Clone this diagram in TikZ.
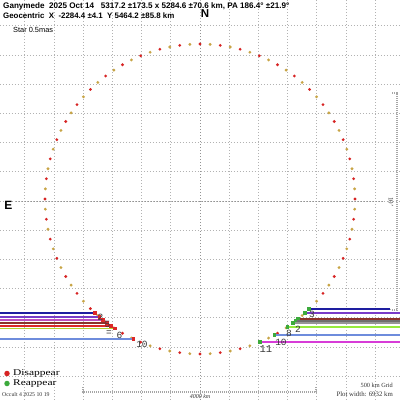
\documentclass[tikz,border=0pt]{standalone}
\usepackage{fontspec}
\usetikzlibrary{calc}
\setmainfont{Liberation Serif}
\setsansfont{Liberation Sans}
\setmonofont{Liberation Mono}
\definecolor{dred}{RGB}{215,35,35}
\definecolor{dolive}{RGB}{200,165,70}
\definecolor{cdblue}{RGB}{30,30,160}
\definecolor{cpurple}{RGB}{120,60,200}
\definecolor{cviolet}{RGB}{190,80,190}
\definecolor{cbrown}{RGB}{140,50,40}
\definecolor{cred}{RGB}{220,40,40}
\definecolor{cyg}{RGB}{180,210,50}
\definecolor{ccorn}{RGB}{110,140,220}
\definecolor{cgrayA}{RGB}{110,110,110}
\definecolor{cgrayB}{RGB}{150,150,150}
\definecolor{clgreen}{RGB}{150,235,60}
\definecolor{cmag}{RGB}{215,60,215}
\definecolor{gfill}{RGB}{60,170,60}
\definecolor{lblgray}{RGB}{55,55,55}
\tikzset{
  gridline/.style={draw=gray!60, line width=0.9pt, dash pattern=on 1.1pt off 1.9pt},
  axisline/.style={draw=gray!85, line width=1pt, dash pattern=on 1.1pt off 1.9pt},
  chord/.style={line width=1.4pt},
  lbl/.style={font=\ttfamily\fontsize{9.5}{9.5}\selectfont, text=lblgray, inner sep=0pt},
  scaleln/.style={draw=gray!70, line width=1.1pt, dash pattern=on 1.2pt off 0.8pt},
  small/.style={font=\fontsize{6.3}{6.3}\selectfont, inner sep=0pt, text=black!80}
}
\begin{document}
\begin{tikzpicture}[x=1pt,y=-1pt]
\useasboundingbox (0,0) rectangle (400,400);
\fill[white] (0,0) rectangle (400,400);
% grid
\foreach \k in {-7,...,7} {
  \draw[gridline] ({200+29.2*\k},0) -- ({200+29.2*\k},400);
  \draw[gridline] (0,{201+29.2*\k}) -- (400,{201+29.2*\k});
}
\draw[axisline] (200,24) -- (200,400);
\draw[axisline] (16,201) -- (384,201);
% limb dots
\foreach \i in {0,...,95} {
  \pgfmathsetmacro\a{\i*3.75}
  \pgfmathtruncatemacro\p{mod(\i,2)}
  \ifnum\p=0 \def\c{dred}\else\def\c{dolive}\fi
  \fill[\c] ({200+155*cos(\a)},{199+155*sin(\a)}) circle (1.55);
}
% left chords (disappear)
\foreach \y/\col [count=\n] in {313/cdblue,317/cpurple,320/cviolet,323/cbrown,326/cred,328.5/cyg,339/ccorn} {
  \pgfmathsetmacro\xx{200-100*sqrt(1.55*1.55-((\y-199)/100)^2)}
  \coordinate (L\n) at (\xx,\y);
  \coordinate (Le\n) at (0,\y);
  \draw[chord,\col] (Le\n) -- (L\n);
  \fill[cred] ($(L\n)+(-1.8,-1.8)$) rectangle ++(3.6,3.6);
}
% right chords (reappear)
\foreach \y/\col/\xe [count=\n] in {309/cdblue/390,313/cpurple/400,319/cbrown/400,321/cgrayA/400,323/cgrayB/400,327/clgreen/400,335/ccorn/400,342/cmag/400} {
  \pgfmathsetmacro\xx{200+100*sqrt(1.55*1.55-((\y-199)/100)^2)}
  \coordinate (R\n) at (\xx,\y);
  \coordinate (Re\n) at (\xe,\y);
  \draw[chord,\col] (R\n) -- (Re\n);
  \fill[gfill] ($(R\n)+(-1.8,-1.8)$) rectangle ++(3.6,3.6);
}
\coordinate (Rx) at (396,309);
\draw[gray!60, line width=0.8pt, dash pattern=on 1pt off 1pt] (Re1) -- (Rx);
% chord labels
\node[lbl] (l2) at (100.5,317.5) {2};
\node[lbl] (l5) at (107.5,324) {5};
\node[lbl] (leq) at (109,333) {=};
\node[lbl] (l6) at (119.5,335) {6};
\node[lbl] (l10) at (142,344.5) {10};
\node[lbl] (r3) at (312,314) {3};
\node[lbl] (r2) at (298,329.5) {2};
\node[lbl] (r8) at (289,333) {8};
\node[lbl] (r10) at (281,342.5) {10};
\node[lbl, font=\ttfamily\fontsize{10.5}{10.5}\selectfont] (r11) at (266,349.5) {11};
% header
\node[anchor=west, inner sep=0pt, font=\sffamily\bfseries\fontsize{8.1}{8}\selectfont] (t1) at (3,6)
  {Ganymede\ \ 2025 Oct 14\ \ \ 5317.2 ±173.5 x 5284.6 ±70.6 km, PA 186.4° ±21.9°};
\node[anchor=west, inner sep=0pt, font=\sffamily\bfseries\fontsize{7.9}{8}\selectfont] (t2) at (3,16)
  {Geocentric\ \ X\ \ -2284.4 ±4.1\ \ Y 5464.2 ±85.8 km};
\node[anchor=west, inner sep=0pt, font=\sffamily\fontsize{7.4}{8}\selectfont] (t3) at (13,30) {Star 0.5mas};
\node[inner sep=0pt, font=\sffamily\bfseries\fontsize{11.5}{12}\selectfont] (N) at (205,14) {N};
\node[inner sep=0pt, font=\sffamily\bfseries\fontsize{12}{12}\selectfont] (E) at (8.5,205) {E};
% legend
\node[circle, fill=dred, inner sep=0pt, minimum size=5.5pt] (dd) at (7,373.5) {};
\node[circle, fill=gfill, inner sep=0pt, minimum size=5.5pt] (rd) at (7,383.5) {};
\node[anchor=west, inner sep=0pt, font=\fontsize{8.8}{9}\selectfont] (dt) at (13,373.5) {\scalebox{1.3}[1]{Disappear}};
\node[anchor=west, inner sep=0pt, font=\fontsize{8.8}{9}\selectfont] (rt) at (13,383.5) {\scalebox{1.3}[1]{Reappear}};
\node[anchor=west, small, font=\fontsize{5.8}{6}\selectfont] (oc) at (2,395) {Occult 4 2025 10 19};
% scale bar
\coordinate (s1) at (83,387);
\coordinate (s2) at (83,392);
\coordinate (s3) at (316,392);
\coordinate (s4) at (316,387);
\draw[scaleln] (s1) -- (s2) -- (s3) -- (s4);
\node[small, font=\itshape\fontsize{6}{6}\selectfont] (sk) at (200,396.5) {4000 km};
% right bracket
\coordinate (b1) at (392,93);
\coordinate (b2) at (397,93);
\coordinate (b3) at (397,310);
\coordinate (b4) at (392,310);
\draw[scaleln] (b1) -- (b2) -- (b3) -- (b4);
\node[small, rotate=-90, font=\fontsize{7}{7}\selectfont] (am) at (391,202) {10'};
\node[small, anchor=east] (gr) at (393,385) {500 km Grid};
\node[small, anchor=east, font=\fontsize{6.8}{7}\selectfont] (pw) at (393,394.5) {Plot width: 6932 km};
\end{tikzpicture}
\end{document}
